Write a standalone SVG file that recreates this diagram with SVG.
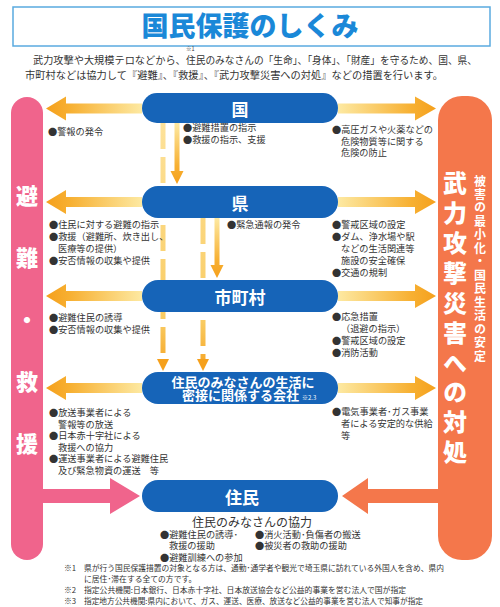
<svg xmlns="http://www.w3.org/2000/svg" width="500" height="607" viewBox="0 0 500 607">
<style>
text{font-family:"Noto Sans CJK JP","Noto Sans",sans-serif;fill:#333}
.t{font-size:9.2px}
.fn{font-size:7.8px}
.node{fill:#1664b8}
.nt{fill:#fff;font-weight:700;font-size:17px;text-anchor:middle;dominant-baseline:central}
.vt{fill:#fff;font-weight:900;writing-mode:vertical-rl;text-orientation:upright}
.dash{stroke:url(#gv);stroke-width:5;fill:none;stroke-dasharray:26 8}
</style>
<defs>
<linearGradient id="gl" x1="0" y1="0" x2="1" y2="0">
<stop offset="0" stop-color="#f5a01c"/><stop offset="0.25" stop-color="#f7b032"/><stop offset="1" stop-color="#fde9a2"/>
</linearGradient>
<linearGradient id="gr" x1="1" y1="0" x2="0" y2="0">
<stop offset="0" stop-color="#f5a01c"/><stop offset="0.25" stop-color="#f7b032"/><stop offset="1" stop-color="#fde9a2"/>
</linearGradient>
<linearGradient id="gd" x1="0" y1="0" x2="0" y2="1">
<stop offset="0" stop-color="#fde9a2"/><stop offset="0.7" stop-color="#f7b032"/><stop offset="1" stop-color="#f5a01c"/>
</linearGradient>
<linearGradient id="gv" gradientUnits="userSpaceOnUse" x1="0" y1="123" x2="0" y2="372">
<stop offset="0" stop-color="#fde29a"/><stop offset="0.8" stop-color="#f9cb62"/><stop offset="1" stop-color="#f5a01c"/>
</linearGradient>
<path id="aL" d="M46 0 L66 -12 L66 -5 L142 -5 L142 5 L66 5 L66 12 Z"/>
<path id="aR" d="M436 0 L415 -12 L415 -5 L338 -5 L338 5 L415 5 L415 12 Z"/>
</defs>
<rect width="500" height="607" fill="#fff"/>

<g id="title">
<rect x="13" y="7" width="477" height="39" fill="none" stroke="#5aaae0" stroke-width="1.5"/>
<text x="250" y="36" text-anchor="middle" style="font-size:27px;font-weight:900;fill:#1a88d8">国民保護のしくみ</text>
</g>
<g id="intro" style="font-size:10.2px">
<text y="64"><tspan x="33">武力攻撃や大規模テロなどから、</tspan><tspan x="186" textLength="291" lengthAdjust="spacingAndGlyphs">住民のみなさんの「生命」、「身体」、「財産」を守るため、国、県、</tspan></text>
<text x="25" y="79" textLength="418" lengthAdjust="spacingAndGlyphs">市町村などは協力して『避難』、『救援』、『武力攻撃災害への対処』などの措置を行います。</text>
<text x="186" y="51" style="font-size:5.5px">※1</text>
</g>

<g id="bar-left">
<rect x="11" y="97" width="32" height="463" rx="16" fill="#f0648c"/>
<text class="vt" x="27" y="185" style="font-size:22px;letter-spacing:40px">避難・救援</text>
</g>
<g id="bar-right">
<rect x="438" y="96" width="54" height="464" rx="24" fill="#f4774b"/>
<text class="vt" x="455" y="171" style="font-size:24px;letter-spacing:5.9px">武力攻撃災害への対処</text>
<text class="vt" x="480" y="175" style="font-size:12px;font-weight:700;letter-spacing:1.46px">被害の最小化・国民生活の安定</text>
</g>

<g id="connectors">
<use href="#aL" fill="url(#gl)" transform="translate(0,108.5)"/>
<use href="#aR" fill="url(#gr)" transform="translate(0,108.5)"/>
<use href="#aL" fill="url(#gl)" transform="translate(0,202)"/>
<use href="#aR" fill="url(#gr)" transform="translate(0,202)"/>
<use href="#aL" fill="url(#gl)" transform="translate(0,296)"/>
<use href="#aR" fill="url(#gr)" transform="translate(0,296)"/>
<use href="#aL" fill="url(#gl)" transform="translate(0,388)"/>
<use href="#aR" fill="url(#gr)" transform="translate(0,388)"/>
<path d="M163 123 V360" class="dash"/>
<path d="M157 359 L169 359 L163 371 Z" fill="#f5a01c"/>
<path d="M203 218 V360" class="dash"/>
<path d="M197 359 L209 359 L203 371 Z" fill="#f5a01c"/>
<path d="M174.5 123 H179.5 V171 H183.5 L177 184 L170.5 171 H174.5 Z" fill="url(#gd)"/>
<path d="M214.5 218 H219.5 V265 H223.5 L217 278 L210.5 265 H214.5 Z" fill="url(#gd)"/>
<path d="M43 489 H110 V478 L140 496 L110 514 V503 H43 Z" fill="#f0648c"/>
<path d="M438 489 H368 V478 L342 496 L368 514 V503 H438 Z" fill="#f4774b"/>
</g>

<g id="node-kuni">
<rect class="node" x="142" y="93" width="196" height="30" rx="15"/>
<text class="nt" x="240" y="108">国</text>
</g>
<g id="node-ken">
<rect class="node" x="142" y="186" width="196" height="32" rx="16"/>
<text class="nt" x="240" y="202">県</text>
</g>
<g id="node-shichoson">
<rect class="node" x="142" y="280" width="196" height="32" rx="16"/>
<text class="nt" x="240" y="296">市町村</text>
</g>
<g id="node-kaisha">
<rect class="node" x="142" y="372" width="196" height="32" rx="16"/>
<text x="243" y="386.5" style="fill:#fff;font-weight:700;font-size:13px;text-anchor:middle">住民のみなさんの生活に</text>
<text x="182" y="400" style="fill:#fff;font-weight:700;font-size:13px">密接に関係する会社<tspan style="font-size:6px;font-weight:400" dx="3">※2.3</tspan></text>
</g>
<g id="node-jumin">
<rect class="node" x="142" y="480" width="196" height="32" rx="16"/>
<text class="nt" x="242" y="496">住民</text>
</g>

<g id="texts" class="t">
<text x="48" y="135">●警報の発令</text>
<text y="131"><tspan x="183">●避難措置の指示</tspan><tspan x="183" dy="12">●救援の指示、支援</tspan></text>
<text y="133"><tspan x="332">●高圧ガスや火薬などの</tspan><tspan x="341" dy="11.7">危険物質等に関する</tspan><tspan x="341" dy="11.7">危険の防止</tspan></text>
<text y="228"><tspan x="49">●住民に対する避難の指示</tspan><tspan x="49" dy="12">●救援（避難所、炊き出し、</tspan><tspan x="58" dy="12">医療等の提供）</tspan><tspan x="49" dy="12">●安否情報の収集や提供</tspan></text>
<text x="227" y="228">●緊急通報の発令</text>
<text y="228"><tspan x="332">●警戒区域の設定</tspan><tspan x="332" dy="12">●ダム、浄水場や駅</tspan><tspan x="341" dy="12">などの生活関連等</tspan><tspan x="341" dy="12">施設の安全確保</tspan><tspan x="332" dy="12">●交通の規制</tspan></text>
<text y="321"><tspan x="49">●避難住民の誘導</tspan><tspan x="49" dy="12">●安否情報の収集や提供</tspan></text>
<text y="320"><tspan x="332">●応急措置</tspan><tspan x="341" dy="12">（退避の指示）</tspan><tspan x="332" dy="12">●警戒区域の設定</tspan><tspan x="332" dy="12">●消防活動</tspan></text>
<text y="416"><tspan x="49">●放送事業者による</tspan><tspan x="58" dy="11.6">警報等の放送</tspan><tspan x="49" dy="11.6">●日本赤十字社による</tspan><tspan x="58" dy="11.6">救援への協力</tspan><tspan x="49" dy="11.6">●運送事業者による避難住民</tspan><tspan x="58" dy="11.6">及び緊急物資の運送　等</tspan></text>
<text y="415"><tspan x="332">●電気事業者･ガス事業</tspan><tspan x="341" dy="12">者による安定的な供給</tspan><tspan x="341" dy="12">等</tspan></text>
<text x="252" y="526.5" style="font-size:12px;text-anchor:middle">住民のみなさんの協力</text>
<text y="537.5"><tspan x="160">●避難住民の誘導･</tspan><tspan x="169" dy="11.5">救援の援助</tspan><tspan x="160" dy="11.5">●避難訓練への参加</tspan></text>
<text y="537.5"><tspan x="255">●消火活動･負傷者の搬送</tspan><tspan x="255" dy="11.5">●被災者の救助の援助</tspan></text>
</g>

<g id="footnotes" class="fn">
<text x="64" y="571">※1</text>
<text x="84" y="571" textLength="360" lengthAdjust="spacingAndGlyphs">県が行う国民保護措置の対象となる方は、通勤･通学者や観光で埼玉県に訪れている外国人を含め、県内</text>
<text x="84" y="582">に居住･滞在する全ての方です。</text>
<text x="64" y="593">※2</text>
<text x="84" y="593" textLength="322" lengthAdjust="spacingAndGlyphs">指定公共機関:日本銀行、日本赤十字社、日本放送協会など公益的事業を営む法人で国が指定</text>
<text x="64" y="604">※3</text>
<text x="84" y="604" textLength="339" lengthAdjust="spacingAndGlyphs">指定地方公共機関:県内において、ガス、運送、医療、放送など公益的事業を営む法人で知事が指定</text>
</g>
</svg>
